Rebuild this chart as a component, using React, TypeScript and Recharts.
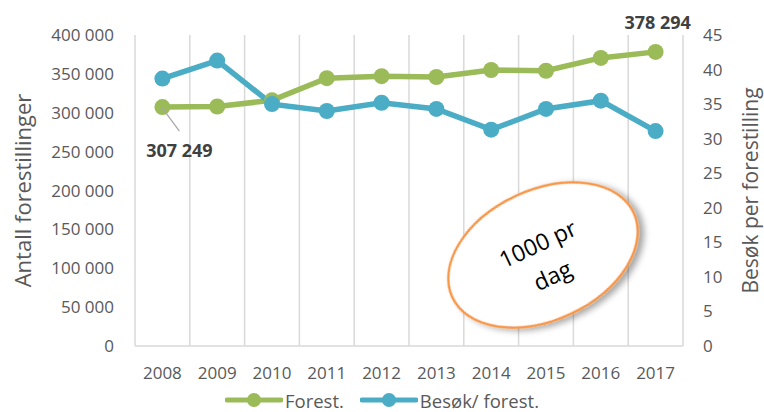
import React from 'react';
import { LineChart, Line, XAxis, YAxis, CartesianGrid, Legend, LabelList } from 'recharts';

const years = ['2008', '2009', '2010', '2011', '2012', '2013', '2014', '2015', '2016', '2017'];
const forestillinger = [307249, 308000, 316000, 344500, 347000, 346000, 355000, 354000, 370500, 378294];
const besokPerForest = [38.7, 41.3, 35.0, 34.0, 35.2, 34.3, 31.3, 34.3, 35.5, 31.1];
const leftTicks = [0, 50000, 100000, 150000, 200000, 250000, 300000, 350000, 400000];
const rightTicks = [0, 5, 10, 15, 20, 25, 30, 35, 40, 45];

const GREEN = '#9bbb59';
const BLUE = '#4bacc6';
const FONT = '"Open Sans", sans-serif';

const data = years.map((year, i) => ({
  year,
  forest: forestillinger[i],
  besok: besokPerForest[i],
}));

const fmt = (v: number) => String(v).replace(/\B(?=(\d{3})+(?!\d))/g, ' ');

const ForestLabel = (props: any) => {
  const { x, y, index, value } = props;
  if (index === 0) {
    return (
      <g>
        <line x1={x} y1={y + 1} x2={x + 17} y2={y + 24} stroke="#a6a6a6" strokeWidth={1.2} />
        <text x={x + 17} y={y + 50} textAnchor="middle" fontSize={18} fontWeight="bold" fill="#404040" fontFamily={FONT}>
          {fmt(value)}
        </text>
      </g>
    );
  }
  if (index === years.length - 1) {
    return (
      <text x={x + 2} y={y - 23} textAnchor="middle" fontSize={18} fontWeight="bold" fill="#404040" fontFamily={FONT}>
        {fmt(value)}
      </text>
    );
  }
  return null;
};

const LegendContent = () => (
  <div style={{ display: 'flex', justifyContent: 'center', height: 24, alignItems: 'center', fontFamily: FONT, fontSize: 18.5, color: '#595959' }}>
    {[{ c: GREEN, t: 'Forest.' }, { c: BLUE, t: 'Besøk/ forest.' }].map((it) => (
      <div key={it.t} style={{ display: 'flex', alignItems: 'center', margin: '0 8px' }}>
        <svg width={58} height={16}>
          <line x1={2} y1={8} x2={56} y2={8} stroke={it.c} strokeWidth={5} strokeLinecap="round" />
          <circle cx={29} cy={8} r={7} fill={it.c} />
        </svg>
        <span style={{ marginLeft: 2 }}>{it.t}</span>
      </div>
    ))}
  </div>
);

const Bubble = () => (
  <svg width={764} height={412} style={{ position: 'absolute', left: 0, top: 0, pointerEvents: 'none' }}>
    <defs>
      <filter id="shadow" x="-30%" y="-30%" width="160%" height="160%">
        <feDropShadow dx={4} dy={4} stdDeviation={3} floodColor="#000" floodOpacity={0.35} />
      </filter>
    </defs>
    <g transform="translate(543 255) rotate(-25)">
      <ellipse cx={0} cy={0} rx={100} ry={65} fill="#fff" stroke="#f79646" strokeWidth={2.5} filter="url(#shadow)" />
      <text x={0} y={-4} textAnchor="middle" fontSize={23} fill="#000" fontFamily={FONT}>1000 pr</text>
      <text x={0} y={31} textAnchor="middle" fontSize={23} fill="#000" fontFamily={FONT}>dag</text>
    </g>
  </svg>
);

const App: React.FC = () => {
  return (
    <div style={{ position: 'absolute', left: 0, top: 0, width: 764, height: 412, background: '#fff' }}>
      <LineChart width={764} height={412} data={data} margin={{ top: 35, right: 0, left: 0, bottom: 0 }}>
        <CartesianGrid
          horizontal={false}
          stroke="#d9d9d9"
          strokeWidth={1.5}
          verticalCoordinatesGenerator={({ offset }: any) =>
            years.map((_, i) => offset.left + (i * offset.width) / years.length).concat([offset.left + offset.width])
          }
        />
        <XAxis
          dataKey="year"
          scale="band"
          height={42}
          tickLine={false}
          tickSize={0}
          tickMargin={21}
          stroke="#d9d9d9"
          strokeWidth={1.5}
          tick={{ fill: '#595959', fontSize: 17, fontFamily: FONT }}
          interval={0}
        />
        <YAxis
          yAxisId="left"
          width={135}
          domain={[0, 400000]}
          ticks={leftTicks}
          tickFormatter={fmt}
          axisLine={false}
          tickLine={false}
          tickSize={0}
          tickMargin={21}
          tick={{ fill: '#595959', fontSize: 17, fontFamily: FONT }}
          label={{
            content: ({ viewBox }: any) => (
              <text
                x={viewBox.x + 22}
                y={viewBox.y + viewBox.height / 2}
                transform={`rotate(-90 ${viewBox.x + 22} ${viewBox.y + viewBox.height / 2})`}
                textAnchor="middle"
                dominantBaseline="central"
                fontSize={22}
                fill="#595959"
                fontFamily={FONT}
              >
                Antall forestillinger
              </text>
            ),
          }}
        />
        <YAxis
          yAxisId="right"
          orientation="right"
          width={81}
          domain={[0, 45]}
          ticks={rightTicks}
          axisLine={false}
          tickLine={false}
          tickSize={0}
          tickMargin={20}
          tick={{ fill: '#595959', fontSize: 17, fontFamily: FONT, textAnchor: 'start' }}
          label={{
            content: ({ viewBox }: any) => (
              <text
                x={viewBox.x + 67}
                y={viewBox.y + viewBox.height / 2}
                transform={`rotate(-90 ${viewBox.x + 67} ${viewBox.y + viewBox.height / 2})`}
                textAnchor="middle"
                dominantBaseline="central"
                fontSize={21}
                fill="#595959"
                fontFamily={FONT}
              >
                Besøk per forestilling
              </text>
            ),
          }}
        />
        <Legend verticalAlign="bottom" content={<LegendContent />} />
        <Line
          yAxisId="left"
          dataKey="forest"
          name="Forest."
          stroke={GREEN}
          strokeWidth={5.5}
          dot={{ r: 8, fill: GREEN, stroke: 'none' }}
          activeDot={false}
          isAnimationActive={false}
        >
          <LabelList dataKey="forest" content={<ForestLabel />} />
        </Line>
        <Line
          yAxisId="right"
          dataKey="besok"
          name="Besøk/ forest."
          stroke={BLUE}
          strokeWidth={5.5}
          dot={{ r: 8, fill: BLUE, stroke: 'none' }}
          activeDot={false}
          isAnimationActive={false}
        />
      </LineChart>
      <Bubble />
    </div>
  );
};

export default App;
